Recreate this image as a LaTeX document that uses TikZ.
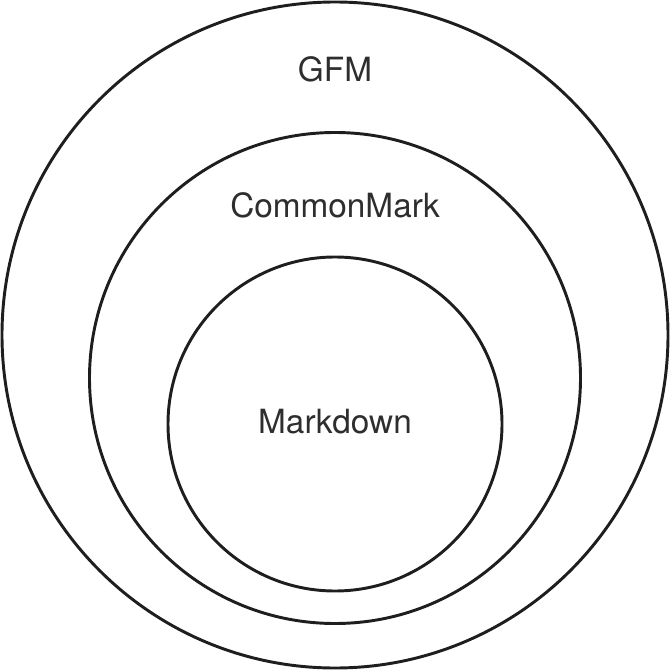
\documentclass[tikz,border=0pt]{standalone}
\usepackage{fontspec}
\setmainfont{TeX Gyre Heros}
\definecolor{ink}{HTML}{1E1E1E}
\definecolor{txt}{HTML}{2E2E2E}
\begin{document}
\begin{tikzpicture}[x=0.75pt,y=-0.75pt,
  ring/.style={circle,draw=ink,line width=2.2pt,inner sep=0pt},
  lbl/.style={anchor=base,text=txt,font=\fontsize{25}{30}\selectfont,inner sep=0pt}]
\useasboundingbox (0,0) rectangle (670,670);
\node[ring,minimum size=499.5pt] (gfm) at (335,335) {};
\node[ring,minimum size=368.25pt] (cm) at (335,378) {};
\node[ring,minimum size=250.5pt] (md) at (335,424) {};
\node[lbl] (tgfm) at (335,82) {GFM};
\node[lbl] (tcm) at (335,218) {CommonMark};
\node[lbl] (tmd) at (335,433) {Markdown};
\end{tikzpicture}
\end{document}
